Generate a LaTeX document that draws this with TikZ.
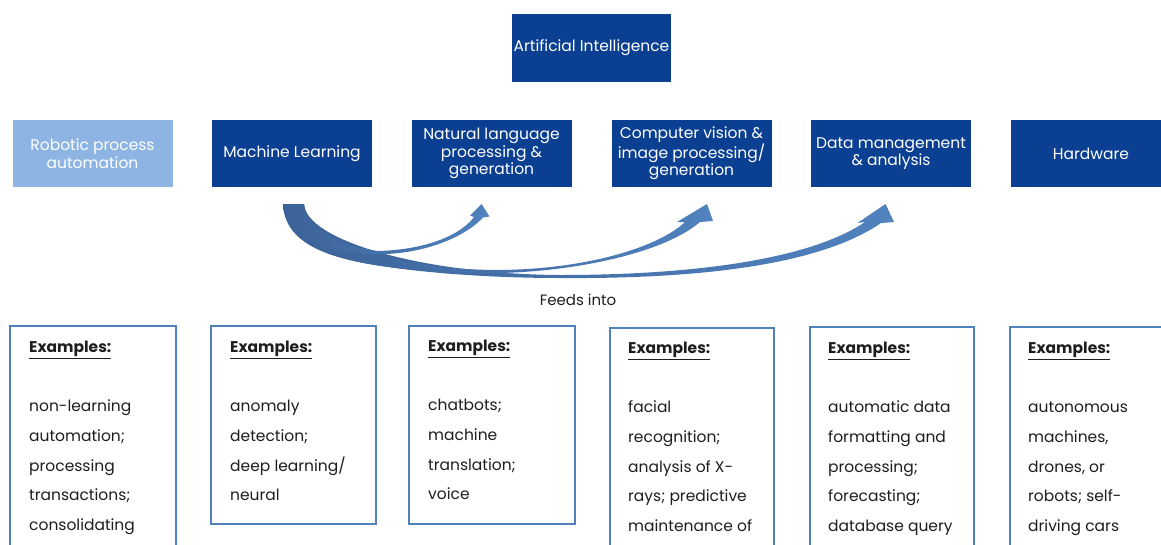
\documentclass[tikz,border=0pt]{standalone}
\usepackage{fontspec}
\setmainfont{Poppins}
\definecolor{aiblue}{RGB}{11,63,146}
\definecolor{rpablue}{RGB}{142,180,227}
\definecolor{exblue}{RGB}{79,129,189}
\definecolor{arrowdark}{RGB}{60,98,152}
\definecolor{arrowlight}{RGB}{80,130,190}
\definecolor{textgray}{RGB}{30,30,30}
\tikzset{
  topbox/.style={fill=aiblue, text=white, minimum width=160pt, minimum height=67pt,
    inner sep=0pt, align=center, font=\fontsize{15.5}{17.5}\selectfont},
  lightbox/.style={topbox, fill=rpablue},
  exbox/.style={draw=exblue, line width=1.8pt, inner sep=0pt, anchor=north west},
  extext/.style={anchor=north west, inner sep=0pt, align=left, text=textgray,
    font=\fontsize{15.5}{29.6}\selectfont},
  feedarrow/.style={left color=arrowdark, right color=arrowlight, draw=none}
}
\newcommand{\exhead}{\underline{\textbf{Examples:}}\\[29.6pt]}
\begin{document}
\begin{tikzpicture}[x=1pt,y=-1pt]
\useasboundingbox (0,0) rectangle (1161,544);
\fill[white] (0,0) rectangle (1161,544);

% top
\node[topbox, minimum width=159pt, minimum height=68pt] (ai) at (591.5,48) {Artificial Intelligence};

% row
\node[lightbox] (rpa) at (92.5,153.5) {Robotic process\\automation};
\node[topbox] (ml) at (292,153.5) {Machine Learning};
\node[topbox] (nlp) at (491.5,153.5) {Natural language\\processing \&\\generation};
\node[topbox] (cv) at (691.5,153.5) {Computer vision \&\\image processing/\\generation};
\node[topbox] (dm) at (891,153.5) {Data management\\\& analysis};
\node[topbox] (hw) at (1091,153.5) {Hardware};

% arrows (ML feeds into NLP, CV, DM)
\shade[feedarrow] (283,204) .. controls (285,240) and (320,256) .. (375,265)
  .. controls (430,274) and (500,278) .. (560,278)
  .. controls (700,279) and (820,265) .. (881,223) -- (894,222) -- (885.5,204) -- (857.5,223) -- (865,222)
  .. controls (812,258) and (700,275) .. (560,275)
  .. controls (420,274) and (306,240) .. (304,204) -- cycle;
\shade[feedarrow] (283,204) .. controls (285,240) and (320,256) .. (375,265)
  .. controls (420,272) and (460,273) .. (500,273)
  .. controls (580,271) and (665,252) .. (700,222) -- (713,221) -- (707,204) -- (677,222) -- (685,222)
  .. controls (660,246) and (590,269) .. (500,270)
  .. controls (390,270) and (306,238) .. (304,204) -- cycle;
\shade[feedarrow] (283,204) .. controls (288,240) and (330,256) .. (385,254)
  .. controls (420,253) and (462,240) .. (483,217.5) -- (489.5,216.5) -- (481.5,204) -- (470,215.5) -- (474,217)
  .. controls (458,238) and (420,250) .. (378,251)
  .. controls (330,245) and (304,222) .. (304,204) -- cycle;

\node[text=textgray, font=\fontsize{15}{16}\selectfont] (feeds) at (578,300) {Feeds into};

% example boxes
\node[exbox, minimum width=166pt, minimum height=240pt] (b1) at (9,325) {};
\node[exbox, minimum width=165pt, minimum height=198pt] (b2) at (210,325) {};
\node[exbox, minimum width=166pt, minimum height=198pt] (b3) at (408,325) {};
\node[exbox, minimum width=164pt, minimum height=240pt] (b4) at (609,327) {};
\node[exbox, minimum width=164pt, minimum height=240pt] (b5) at (809,326) {};
\node[exbox, minimum width=164pt, minimum height=240pt] (b6) at (1009,326) {};

\node[extext] (t1) at (29,341) {\exhead non-learning\\automation;\\processing\\transactions;\\consolidating};
\node[extext] (t2) at (230,341) {\exhead anomaly\\detection;\\deep learning/\\neural};
\node[extext] (t3) at (428,340) {\exhead chatbots;\\machine\\translation;\\voice};
\node[extext] (t4) at (628,342) {\exhead facial\\recognition;\\analysis of X-\\rays; predictive\\maintenance of};
\node[extext] (t5) at (828,342) {\exhead automatic data\\formatting and\\processing;\\forecasting;\\database query};
\node[extext] (t6) at (1028,342) {\exhead autonomous\\machines,\\drones, or\\robots; self-\\driving cars};
\end{tikzpicture}
\end{document}
